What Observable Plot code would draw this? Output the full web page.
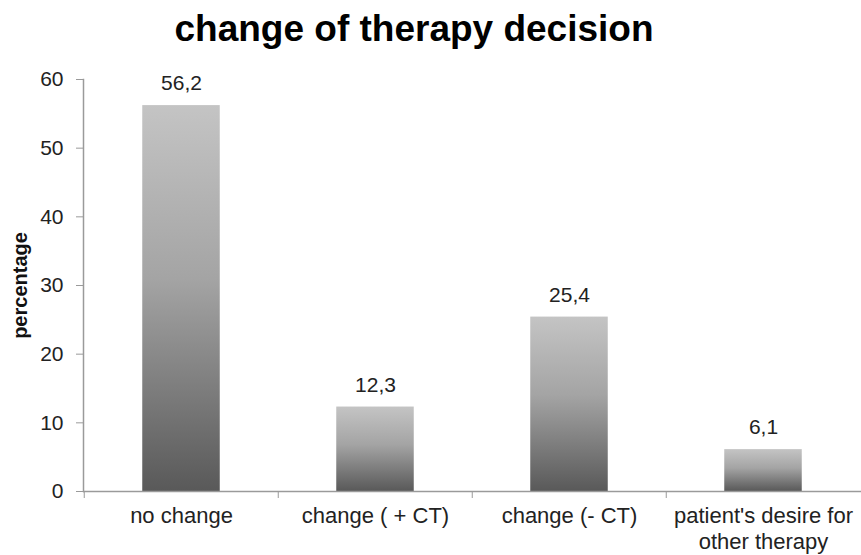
<!DOCTYPE html>
<html>
<head>
<meta charset="utf-8">
<script src="https://cdn.jsdelivr.net/npm/d3@7"></script>
<script src="https://cdn.jsdelivr.net/npm/@observablehq/plot@0.6"></script>
<style>
  html, body { margin: 0; padding: 0; background: #fff; }
  #wrap { position: relative; width: 861px; height: 555px; overflow: hidden; font-family: "Liberation Sans", Arial, sans-serif; }
  #title { position: absolute; left: 0; width: 828px; top: 10px; text-align: center; font-size: 37px; font-weight: bold; color: #000; line-height: 37px; white-space: nowrap; }
  #chart { position: absolute; left: 0; top: 60px; }
</style>
</head>
<body>
<div id="wrap">
  <div id="title">change of therapy decision</div>
  <div id="chart"></div>
</div>
<script>
const categories = ["no change", "change ( + CT)", "change (- CT)", "patient's desire for\nother therapy"];
const values = [56.2, 12.3, 25.4, 6.1];
const valueLabels = ["56,2", "12,3", "25,4", "6,1"];
const yTicks = [0, 10, 20, 30, 40, 50, 60];
const yLabel = "percentage";

const data = categories.map((c, i) => ({category: c, value: values[i], label: valueLabels[i]}));

const W = 861, H = 495, ML = 83, MR = 0, MT = 19, MB = 64;
const bw = (W - ML - MR) / categories.length;
const barW = 78;
const inset = (bw - barW) / 2;

const defs = () => {
  const d = d3.create("svg:defs");
  const g = d.append("linearGradient").attr("id", "barGrad").attr("x1", 0).attr("y1", 0).attr("x2", 0).attr("y2", 1);
  g.append("stop").attr("offset", "0%").attr("stop-color", "#c4c4c4");
  g.append("stop").attr("offset", "45%").attr("stop-color", "#a4a4a4");
  g.append("stop").attr("offset", "100%").attr("stop-color", "#595959");
  return d.node();
};

const chart = Plot.plot({
  width: W,
  height: H,
  marginLeft: ML,
  marginRight: MR,
  marginTop: MT,
  marginBottom: MB,
  style: {fontFamily: "'Liberation Sans', Arial, sans-serif", fontSize: "21px", color: "#222", background: "#fff"},
  x: {domain: categories, padding: 0, label: null},
  y: {domain: [0, 60], label: null},
  marks: [
    defs,
    Plot.barY(data, {x: "category", y: "value", fill: "url(#barGrad)", insetLeft: inset, insetRight: inset}),
    Plot.ruleY([0], {stroke: "#9a9a9a", strokeWidth: 1.5}),
    Plot.frame({anchor: "left", stroke: "#9a9a9a", strokeWidth: 1.5}),
    Plot.axisY({ticks: yTicks, tickSize: 7, tickPadding: 13, stroke: "#9a9a9a", fontSize: 21, fill: "#222"}),
    Plot.axisX({ticks: categories, tickSize: 7, tickFormat: () => "", dx: -bw / 2, stroke: "#9a9a9a"}),
    Plot.axisX({ticks: categories, tickSize: 0, tickPadding: 13, fontSize: 22, fill: "#222", lineHeight: 1.18}),
    Plot.text(data, {x: "category", y: "value", text: "label", dy: -22, fontSize: 21, fill: "#222"}),
    Plot.text([yLabel], {frameAnchor: "left", textAnchor: "middle", rotate: -90, dx: -63, fontSize: 20, fontWeight: "bold", fill: "#111"})
  ]
});

document.getElementById("chart").appendChild(chart);
</script>
</body>
</html>
